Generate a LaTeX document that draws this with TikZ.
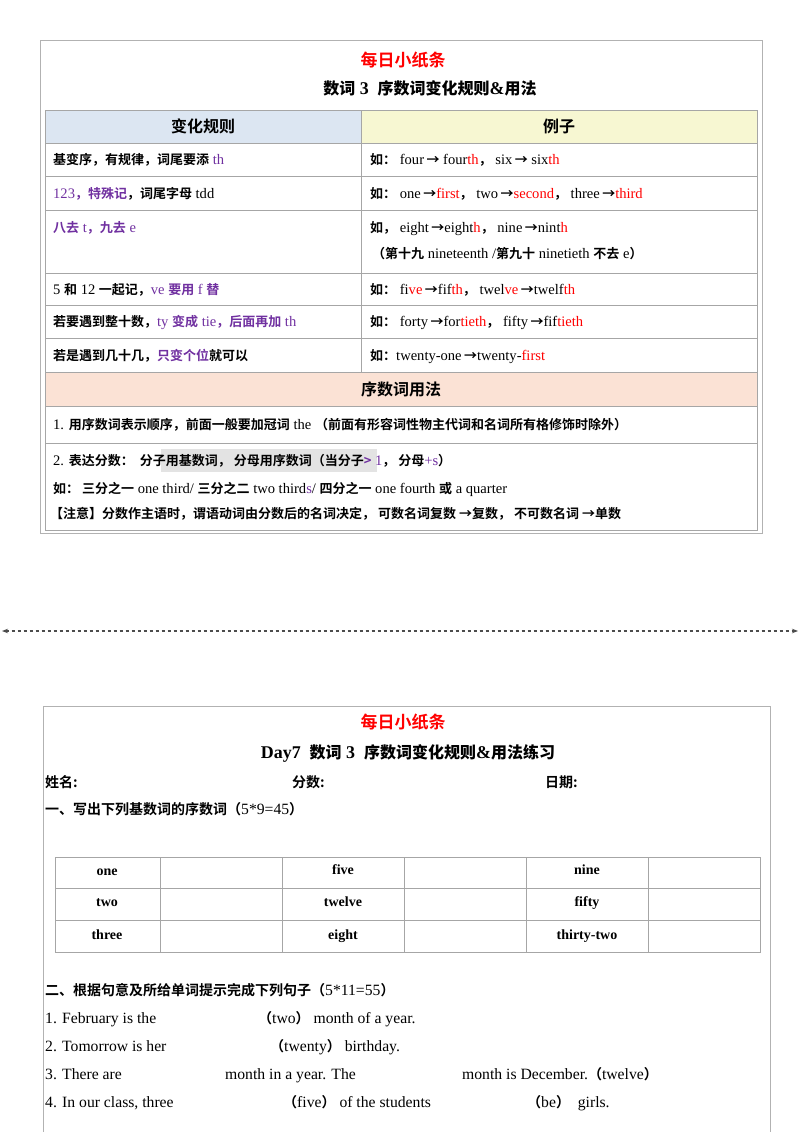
\documentclass[tikz,border=0pt]{standalone}
\usepackage{fontspec}
\usetikzlibrary{arrows.meta}
\setmainfont{Liberation Serif}[Scale=1.12]
\newfontfamily\zh{Noto Sans CJK SC}[UprightFont=* Bold]
\definecolor{myred}{HTML}{FF0000}
\definecolor{mypur}{HTML}{7030A0}
\definecolor{hblue}{HTML}{DCE6F2}
\definecolor{hyel}{HTML}{F7F7D2}
\definecolor{hpeach}{HTML}{FBE2D5}
\newcommand{\z}[1]{{\zh #1}}
\newcommand{\rd}[1]{\textcolor{myred}{#1}}
\newcommand{\pu}[1]{\textcolor{mypur}{#1}}
\newcommand{\ar}{\,{\zh →}}
\tikzset{
 tx/.style={anchor=base west,inner sep=0,font=\fontsize{13}{15}\selectfont},
 ttl/.style={inner sep=0,font=\zh\fontsize{17}{19}\selectfont,text=myred},
 sub/.style={inner sep=0,font=\fontsize{16}{18}\selectfont\bfseries},
 hd/.style={inner sep=0,font=\zh\fontsize{16}{18}\selectfont},
 cell/.style={inner sep=0,anchor=base,font=\fontsize{12.5}{14}\selectfont\bfseries},
 grid/.style={draw=gray!70,line width=0.8pt},
}
\begin{document}
\begin{tikzpicture}[x=1pt,y=-1pt]
\useasboundingbox (0,0) rectangle (800,1132);
% ---------- top card ----------
\draw[gray!60,line width=0.8pt] (40,40) rectangle (762,533);
\node[ttl] (t1) at (403,60) {每日小纸条};
\node[sub,anchor=base west] (da) at (257,117) {Da};
\node[sub] (t2) at (430,88) {\z{数词} 3\ \ \z{序数词变化规则}\&\z{用法}};
\fill[white] (45,104) rectangle (757,110);
\fill[hblue] (45,110) rectangle (361,143);
\fill[hyel] (361,110) rectangle (757,143);
\fill[hpeach] (45,372) rectangle (757,406);
\fill[gray!22] (161,449) rectangle (377,472);
\draw[grid] (45,110) rectangle (757,530);
\foreach \yy in {143,176,210,273,305,338,372,406,443} \draw[grid] (45,\yy) -- (757,\yy);
\draw[grid] (361,110) -- (361,372);
\node[hd] (h1) at (203,126) {变化规则};
\node[hd] (h2) at (559,126) {例子};
\node[tx] (l1) at (53,164) {\z{基变序，有规律，词尾要添} \pu{th}};
\node[tx] (r1) at (370,164) {\z{如：} four\ar{} four\rd{th}\z{，} six\ar{} six\rd{th}};
\node[tx] (l2) at (53,198) {\pu{123\z{，}\z{特殊记}}\z{，词尾字母} tdd};
\node[tx] (r2) at (370,198) {\z{如：} one\ar\rd{first}\z{，} two\ar\rd{second}\z{，} three\ar\rd{third}};
\node[tx] (l3) at (53,232) {\pu{\z{八去} t\z{，}\z{九去} e}};
\node[tx] (r3) at (370,232) {\z{如，} eight\ar eight\rd{h}\z{，} nine\ar nint\rd{h}};
\node[tx] (r3b) at (372,258) {\z{（第十九} nineteenth /\z{第九十} ninetieth \z{不去} e\z{）}};
\node[tx] (l4) at (53,294) {5 \z{和} 12 \z{一起记，}\pu{ve \z{要用} f \z{替}}};
\node[tx] (r4) at (370,294) {\z{如：} fi\rd{ve}\ar fif\rd{th}\z{，} twel\rd{ve}\ar twelf\rd{th}};
\node[tx] (l5) at (53,326) {\z{若要遇到整十数，}\pu{ty \z{变成} tie\z{，后面再加} th}};
\node[tx] (r5) at (370,326) {\z{如：} forty\ar for\rd{tieth}\z{，} fifty\ar fif\rd{tieth}};
\node[tx] (l6) at (53,360) {\z{若是遇到几十几，}\pu{\z{只变个位}}\z{就可以}};
\node[tx] (r6) at (370,360) {\z{如：}twenty-one\ar twenty-\rd{first}};
\node[hd] (h3) at (401,389) {序数词用法};
\node[tx] (u1) at (53,429) {1. \z{用序数词表示顺序，前面一般要加冠词} the \z{（前面有形容词性物主代词和名词所有格修饰时除外）}};
\node[tx] (u2) at (53,465) {2. \z{表达分数：\ \ 分子用基数词，\ 分母用序数词（当分子}\pu{\z{>} 1}\z{，\ 分母}\pu{+s}\z{）}};
\node[tx] (u3) at (53,493) {\z{如：\ 三分之一} one third/ \z{三分之二} two third\pu{s}/ \z{四分之一} one fourth \z{或} a quarter};
\node[tx] (u4) at (50,518) {\z{【注意】分数作主语时，谓语动词由分数后的名词决定，\ 可数名词复数 →复数，\ 不可数名词 →单数}};
% ---------- separator ----------
\coordinate (sa) at (2,631);
\coordinate (sb) at (798,631);
\draw[gray!60!black,dashed,line width=1.2pt,{Stealth[length=6pt]}-{Stealth[length=6pt]}] (sa) -- (sb);
% ---------- bottom card ----------
\draw[gray!60,line width=0.8pt] (43,706) rectangle (770,1140);
\node[ttl] (b1) at (403,722) {每日小纸条};
\node[sub] (b2) at (408,753) {Day7\ \ \z{数词} 3\ \ \z{序数词变化规则}\&\z{用法练习}};
\node[tx,font=\zh\fontsize{14}{16}\selectfont] (nm) at (45,787) {姓名:};
\node[tx,font=\zh\fontsize{14}{16}\selectfont] (sc) at (292,787) {分数:};
\node[tx,font=\zh\fontsize{14}{16}\selectfont] (dt) at (545,787) {日期:};
\node[tx,font=\fontsize{14}{16}\selectfont] (s1) at (45,814) {\z{一、写出下列基数词的序数词（}5*9=45\z{）}};
\draw[grid] (55,857) rectangle (760,952);
\draw[grid] (55,888) -- (760,888);
\draw[grid] (55,920) -- (760,920);
\foreach \xx in {160,282,404,526,648} \draw[grid] (\xx,857) -- (\xx,952);
\node[cell] (c11) at (107,875) {one};
\node[cell] (c12) at (343,874) {five};
\node[cell] (c13) at (587,874) {nine};
\node[cell] (c21) at (107,906) {two};
\node[cell] (c22) at (343,906) {twelve};
\node[cell] (c23) at (587,906) {fifty};
\node[cell] (c31) at (107,939) {three};
\node[cell] (c32) at (343,939) {eight};
\node[cell] (c33) at (587,939) {thirty-two};
\node[tx,font=\fontsize{14}{16}\selectfont] (s2) at (45,995) {\z{二、根据句意及所给单词提示完成下列句子（}5*11=55\z{）}};
\node[tx,font=\fontsize{14}{16}\selectfont] (q1) at (45,1023) {1. February is the};
\node[tx,font=\fontsize{14}{16}\selectfont] (q1b) at (258,1023) {\z{（}two\z{）} month of a year.};
\node[tx,font=\fontsize{14}{16}\selectfont] (q2) at (45,1051) {2. Tomorrow is her};
\node[tx,font=\fontsize{14}{16}\selectfont] (q2b) at (270,1051) {\z{（}twenty\z{）} birthday.};
\node[tx,font=\fontsize{14}{16}\selectfont] (q3) at (45,1079) {3. There are};
\node[tx,font=\fontsize{14}{16}\selectfont] (q3b) at (225,1079) {month in a year. The};
\node[tx,font=\fontsize{14}{16}\selectfont] (q3c) at (462,1079) {month is December.\z{（}twelve\z{）}};
\node[tx,font=\fontsize{14}{16}\selectfont] (q4) at (45,1107) {4. In our class, three};
\node[tx,font=\fontsize{14}{16}\selectfont] (q4b) at (283,1107) {\z{（}five\z{）} of the students};
\node[tx,font=\fontsize{14}{16}\selectfont] (q4c) at (527,1107) {\z{（}be\z{）}\ \ girls.};
\end{tikzpicture}
\end{document}
